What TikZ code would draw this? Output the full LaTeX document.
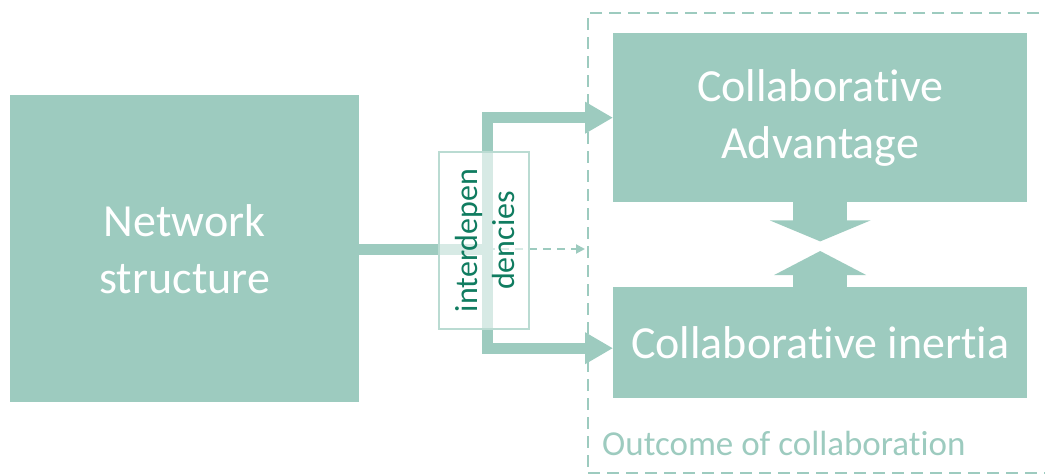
\documentclass[tikz,border=0pt]{standalone}
\usepackage{fontspec}
\setmainfont{Carlito}[Ligatures={NoCommon}, RawFeature={-liga;-clig}]
\usetikzlibrary{arrows.meta,calc}
\definecolor{boxgreen}{RGB}{157,203,191}
\definecolor{textgreen}{RGB}{16,124,96}
\begin{document}
\begin{tikzpicture}[x=1pt,y=-1pt,
  block/.style={fill=boxgreen, text=white, inner sep=0pt, align=center,
    font=\fontsize{46}{57}\selectfont, anchor=north west},
  conn/.style={draw=boxgreen, line width=11pt, line join=miter},
  flowtip/.style={-{Triangle[length=28pt,width=30pt]}},
  outline/.style={draw=boxgreen, line width=2pt, dash pattern=on 12pt off 7pt, inner sep=0pt, anchor=north west},
  notebox/.style={draw=boxgreen!70, line width=1.5pt, fill=white, fill opacity=0.6, text opacity=1,
    text=textgreen, minimum width=90pt, minimum height=177pt, inner sep=0pt},
]
\useasboundingbox (0,0) rectangle (1045,474);

% outcome frame (its right side runs off the page)
\node[outline, minimum width=480pt, minimum height=460pt] (outcome) at (587,12) {};
\node[anchor=base west, text=boxgreen, inner sep=0pt, font=\fontsize{35}{40}\selectfont] (outlbl) at (602,455) {Outcome of collaboration};

% main blocks
\node[block, minimum width=349pt, minimum height=307pt] (net) at (10,95) {Network\\structure};
\node[block, minimum width=414pt, minimum height=169pt] (adv) at (613,33) {Collaborative\\Advantage};
\node[block, minimum width=414pt, minimum height=111pt] (inr) at (613,287) {Collaborative inertia};

% facing block arrows between the outcomes
\draw[boxgreen, line width=54pt, -{Triangle[length=21pt,width=100pt]}] (adv.south) -- ++(0,39);
\draw[boxgreen, line width=54pt, -{Triangle[length=24pt,width=91pt]}] (inr.north) -- ++(0,-36);

% connectors from the network structure
\coordinate (j) at (487,249);
\coordinate (dend) at (585,249);
\draw[conn] (net.east |- j) -- (j);
\draw[conn, flowtip] (j) |- (adv.west);
\draw[conn, flowtip] (j) |- ([yshift=-5.5pt]inr.west);
\draw[boxgreen, line width=2pt, dash pattern=on 8pt off 6pt, -{Triangle[length=9pt,width=9pt]}] (j) -- (dend);

% interdependencies label box
\node[notebox] (dep) at (484,240.5) {};
\node[rotate=90, text=textgreen, align=center, inner sep=0pt,
  font=\fontsize{32}{37}\selectfont] (deptext) at ([xshift=1pt]dep.center) {interdepen\\dencies};
\end{tikzpicture}
\end{document}
